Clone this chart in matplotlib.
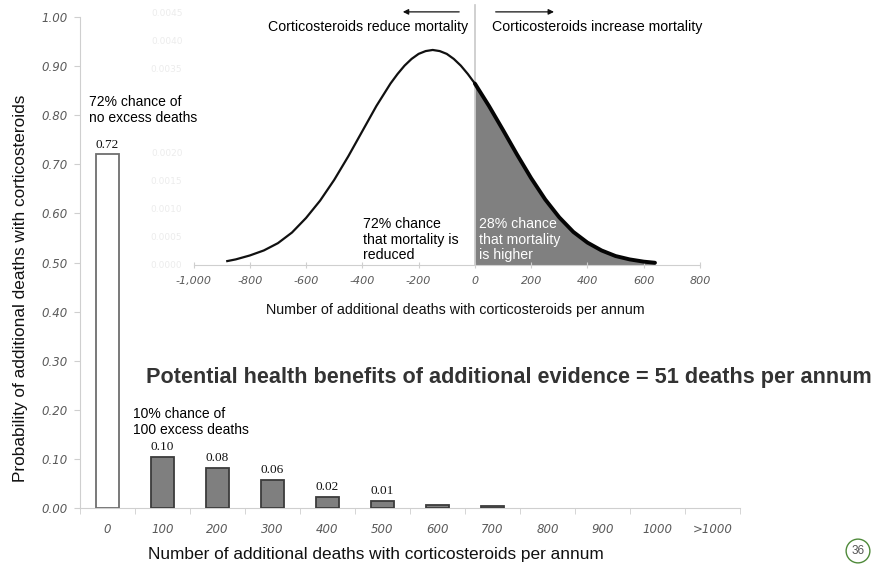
import matplotlib.pyplot as plt
import numpy as np
from matplotlib.axes import Axes

# excess deaths per annum, probability of each outcome
categories = ["0", "100", "200", "300", "400", "500", "600", "700", "800", "900", "1000", ">1000"]
probabilities = [0.72, 0.103, 0.081, 0.057, 0.022, 0.014, 0.007, 0.004, 0.0, 0.0, 0.0, 0.0]
n_labelled = 6

# distribution of additional deaths with corticosteroids
curve_x = [-880, -850, -800, -750, -700, -650, -600, -550, -500, -450, -400, -350, -300, -275,
           -250, -225, -200, -175, -150, -125, -100, -75, -50, -25, 0, 50, 100, 150, 200, 250,
           300, 350, 400, 450, 500, 550, 600, 640]
curve_y = [0.00007, 0.00010, 0.00017, 0.00026, 0.00039, 0.00058, 0.00084, 0.00115, 0.00152,
           0.00194, 0.00239, 0.00284, 0.00324, 0.00341, 0.00356, 0.00368, 0.00377, 0.00382,
           0.00384, 0.00382, 0.00377, 0.00368, 0.00356, 0.00341, 0.00324, 0.00284, 0.00241,
           0.00197, 0.00155, 0.00117, 0.00085, 0.00059, 0.00040, 0.00026, 0.00016, 0.00010,
           0.00006, 0.00004]
inset_xticks = [-1000, -800, -600, -400, -200, 0, 200, 400, 600, 800]
inset_yticks = [0.0, 0.0005, 0.001, 0.0015, 0.002, 0.0025, 0.003, 0.0035, 0.004, 0.0045]
inset_yhidden = [0.0025, 0.003]  # covered by the "no excess deaths" note

sans = "Liberation Sans"
tick_grey = "#5a5a5a"
spine_grey = "#cfcfcf"

fig = plt.figure(figsize=(8.78, 5.69), dpi=100)

# ---- main bar chart ----
ax: Axes = fig.add_axes([80 / 878, 61 / 569, 660 / 878, 491 / 569])
xpos = np.arange(len(categories))
face = ["white"] + ["#7f7f7f"] * (len(categories) - 1)
edge = ["#6e6e6e"] + ["#3c3c3c"] * (len(categories) - 1)
edge = [e if p > 0 else "none" for e, p in zip(edge, probabilities)]
ax.bar(xpos, probabilities, width=0.41, color=face, edgecolor=edge, linewidth=1.3, zorder=3)
for i in range(n_labelled):
    ax.text(xpos[i], probabilities[i] + 0.008, f"{probabilities[i]:.2f}", ha="center", va="bottom",
            family="Liberation Serif", fontsize=9.5, color="#111111")

ax.set_xlim(-0.5, len(categories) - 0.5)
ax.set_ylim(0, 1.0)
ax.set_yticks(np.arange(0, 1.01, 0.1))
ax.set_yticklabels([f"{v:.2f}" for v in np.arange(0, 1.01, 0.1)], style="italic", color=tick_grey,
                   fontsize=8.5)
ax.set_xticks(xpos)
ax.set_xticklabels(categories, style="italic", color=tick_grey, fontsize=8.5)
ax.set_xticks(np.arange(-0.5, len(categories)), minor=True)
ax.tick_params(axis="x", which="major", length=0, pad=11)
ax.tick_params(axis="x", which="minor", length=4, color=spine_grey)
ax.tick_params(axis="y", length=4, color=spine_grey, pad=5)
for side in ["top", "right"]:
    ax.spines[side].set_visible(False)
for side in ["left", "bottom"]:
    ax.spines[side].set_color(spine_grey)
ax.set_facecolor("none")

ax.set_ylabel("Probability of additional deaths with corticosteroids", family=sans, fontsize=12.4,
              color="#111111")
ax.yaxis.set_label_coords(-0.079, 0.448)
ax.set_xlabel("Number of additional deaths with corticosteroids per annum", family=sans, fontsize=12.4,
              color="#111111")
ax.xaxis.set_label_coords(0.448, -0.08)

ax.text(0.47, 0.175, "10% chance of\n100 excess deaths", family=sans, fontsize=10, va="center",
        linespacing=1.2)
fig.text(89 / 878, 1 - 110 / 569, "72% chance of\nno excess deaths", family=sans, fontsize=10,
         va="center", linespacing=1.2, zorder=5)

fig.text(146 / 878, 1 - 378 / 569, "Potential health benefits of additional evidence = 51 deaths per annum",
         family=sans, fontsize=15.6, fontweight="bold", color="#333333", va="center")

# ---- inset: distribution of the effect ----
ins: Axes = fig.add_axes([193.5 / 878, 304 / 569, 506.5 / 878, 252 / 569])
ins.set_facecolor("none")
cx = np.array(curve_x)
cy = np.array(curve_y)
ins.fill_between(cx, 0, cy, where=cx >= 0, color="#808080", linewidth=0, zorder=1)
ins.plot(cx[cx <= 0], cy[cx <= 0], color="#111111", lw=1.6, zorder=3)
ins.plot(cx[cx >= 0], cy[cx >= 0], color="#050505", lw=2.8, solid_capstyle="round", zorder=3)
ins.plot([0, 0], [0, 0.00465], color="#c8c8c8", lw=1.2, zorder=2, clip_on=False)

ins.set_xlim(-1000, 800)
ins.set_ylim(0, 0.0045)
ins.set_xticks(inset_xticks)
ins.set_xticklabels([f"{v:,}" for v in inset_xticks], style="italic", color=tick_grey, fontsize=8)
ins.set_yticks(inset_yticks)
ins.set_yticklabels(["" if v in inset_yhidden else f"{v:.4f}" for v in inset_yticks],
                    color="#ececec", fontsize=6.5)
ins.tick_params(axis="x", length=4, direction="inout", color=spine_grey, pad=6)
ins.tick_params(axis="y", length=0, pad=8)
for side in ["top", "right", "left"]:
    ins.spines[side].set_visible(False)
ins.spines["bottom"].set_color(spine_grey)
ins.set_xlabel("Number of additional deaths with corticosteroids per annum", family=sans,
               fontsize=10.3, color="#111111")
ins.xaxis.set_label_coords(0.517, -0.15)

ins.text(-398, 0.00005, "72% chance\nthat mortality is\nreduced", family=sans, fontsize=10.2,
         va="bottom", linespacing=1.15)
ins.text(14, 0.00005, "28% chance\nthat mortality\nis higher", family=sans, fontsize=10.2,
         va="bottom", color="white", linespacing=1.15)

ins.annotate("", xy=(-266, 0.00452), xytext=(-46, 0.00452), annotation_clip=False,
             arrowprops=dict(arrowstyle="-|>", color="#111111", lw=0.9, mutation_scale=8))
ins.annotate("", xy=(291, 0.00452), xytext=(64, 0.00452), annotation_clip=False,
             arrowprops=dict(arrowstyle="-|>", color="#111111", lw=0.9, mutation_scale=8))
ins.text(-25, 0.00425, "Corticosteroids reduce mortality", family=sans, fontsize=10.2, ha="right",
         va="center")
ins.text(60, 0.00425, "Corticosteroids increase mortality", family=sans, fontsize=10.2, ha="left",
         va="center")

# slide number
fig.text(858 / 878, 1 - 551 / 569, "36", family=sans, fontsize=8.5, color="#555555", ha="center",
         va="center", bbox=dict(boxstyle="circle,pad=0.45", fc="white", ec="#4f8a3a", lw=1.0))

fig.savefig("out.png", dpi=100)
